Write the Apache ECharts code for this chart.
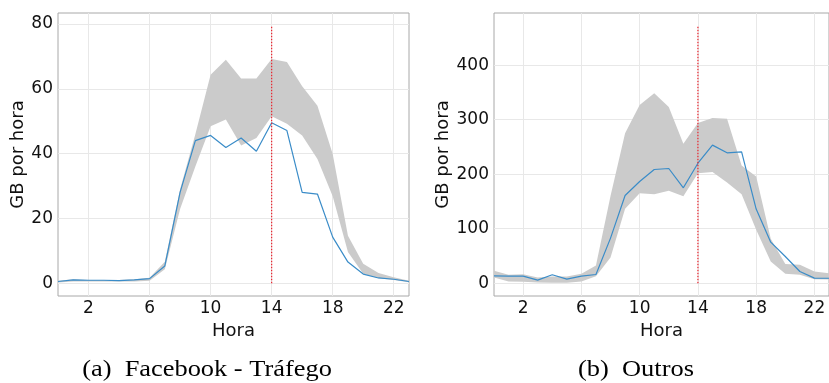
<!DOCTYPE html>
<html>
<head>
<meta charset="utf-8">
<script src="https://cdn.jsdelivr.net/npm/echarts@6/dist/echarts.min.js"></script>
<style>
  html, body { margin: 0; padding: 0; background: #fff; }
  #main { width: 829px; height: 383px; }
</style>
</head>
<body>
<div id="main"></div>
<script>
// horas do dia
const hours = [0,1,2,3,4,5,6,7,8,9,10,11,12,13,14,15,16,17,18,19,20,21,22,23];
const xTicks = [2, 6, 10, 14, 18, 22];

// (a) Facebook - Tráfego
const fbLine = [0.5,1.0,0.9,0.9,0.8,1.0,1.4,5.3,28,44,45.6,41.9,44.8,40.7,49.5,47.1,28,27.5,14.2,6.5,2.8,1.6,1.2,0.5];
const fbLow  = [0.2,0.5,0.5,0.5,0.5,0.5,0.7,4.3,22.9,36,48.4,50.5,42.5,44.8,51.5,49.2,45.6,38.3,26.8,9.6,2.9,1.5,1.0,0.3];
const fbHigh = [0.7,1.2,1.0,1.0,1.0,1.2,1.7,6.6,29,46,64.3,69.0,63.2,63.2,69.2,68.3,60.8,54.8,39.9,14.6,6.0,3.1,1.8,0.7];
const fbTicks = [0, 20, 40, 60, 80];
const fbMarkTop = 79.4;

// (b) Outros
const otLine = [13.4,13,12.8,5.5,15.3,7.3,12.8,15.8,82.6,160.8,186.5,208.5,210.3,174.9,220,253.2,239.1,240.9,135.8,75.2,48.8,21.3,9.2,9];
const otLow  = [10.3,3,2.4,1.2,0.6,0.6,3,12.8,47,136.3,165,163.3,169.4,159.6,201.8,203.7,184.6,163.3,97.8,39.6,17,15.2,7,6.5];
const otHigh = [22.6,15.2,16.5,10.4,12,12,17,32.3,160,275,327,348.6,323,255.6,293.6,303,301.5,215.8,195.6,81.3,34.9,33.6,21.3,18];
const otTicks = [0, 100, 200, 300, 400];
const otMarkTop = 472;

const peakHour = 14;

const chart = echarts.init(document.getElementById('main'), null, { renderer: 'canvas' });

const font = 'DejaVu Sans';
const textColor = '#111';
const pairs = (arr) => hours.map((h, i) => [h, arr[i]]);

function xAxisFor(idx) {
  return {
    type: 'value', gridIndex: idx, min: 0, max: 23,
    name: 'Hora', nameLocation: 'middle', nameGap: 21,
    nameTextStyle: { fontFamily: font, fontSize: 18, color: textColor },
    axisLine: { show: false },
    axisTick: { show: false, customValues: xTicks },
    axisLabel: { customValues: xTicks, fontFamily: font, fontSize: 17, color: textColor, margin: 4 },
    splitLine: { show: true, lineStyle: { color: '#e8e8e8', width: 1 } }
  };
}

function yAxisFor(idx, min, max, ticks, gap) {
  return {
    type: 'value', gridIndex: idx, min: min, max: max,
    name: 'GB por hora', nameLocation: 'middle', nameGap: gap,
    nameTextStyle: { fontFamily: font, fontSize: 18, color: textColor },
    axisLine: { show: false },
    axisTick: { show: false, customValues: ticks },
    axisLabel: { customValues: ticks, fontFamily: font, fontSize: 17, color: textColor, margin: 5 },
    splitLine: { show: true, lineStyle: { color: '#e8e8e8', width: 1 } }
  };
}

// faixa min-max desenhada como um poligono via escalas do eixo
function bandSeries(idx, low, high) {
  return {
    type: 'custom', xAxisIndex: idx, yAxisIndex: idx, silent: true,
    data: hours.map((h, i) => [h, low[i], high[i]]),
    encode: { x: 0, y: [1, 2] },
    renderItem: function (params, api) {
      if (params.dataIndex !== 0) return null;
      const pts = [];
      for (let i = 0; i < hours.length; i++) pts.push(api.coord([hours[i], high[i]]));
      for (let i = hours.length - 1; i >= 0; i--) pts.push(api.coord([hours[i], low[i]]));
      return { type: 'polygon', shape: { points: pts }, style: { fill: '#cbcbcb', stroke: null } };
    }
  };
}

function seriesFor(idx, low, high, line, top) {
  return [
    bandSeries(idx, low, high),
    {
      type: 'line', xAxisIndex: idx, yAxisIndex: idx,
      data: pairs(line), symbol: 'none', silent: true,
      lineStyle: { color: '#3a8cc8', width: 1.2 }
    },
    {
      type: 'line', xAxisIndex: idx, yAxisIndex: idx,
      data: [[peakHour, 0], [peakHour, top]], symbol: 'none', silent: true,
      lineStyle: { color: '#e8202a', width: 1.2, type: [1.5, 1.5] }
    }
  ];
}

const option = {
  animation: false,
  backgroundColor: '#fff',
  grid: [
    { left: 58, top: 13, width: 351, height: 283, show: true, borderColor: '#a8a8a8', borderWidth: 1, backgroundColor: 'transparent' },
    { left: 494, top: 13, width: 339, height: 283, show: true, borderColor: '#a8a8a8', borderWidth: 1, backgroundColor: 'transparent' }
  ],
  xAxis: [xAxisFor(0), xAxisFor(1)],
  yAxis: [
    yAxisFor(0, -3.97, 83.4, fbTicks, 29),
    yAxisFor(1, -23.6, 495.6, otTicks, 42)
  ],
  series: [].concat(
    seriesFor(0, fbLow, fbHigh, fbLine, fbMarkTop),
    seriesFor(1, otLow, otHigh, otLine, otMarkTop)
  ),
  graphic: [
    {
      type: 'text', x: 207, y: 370, scaleX: 1.1, silent: true,
      style: { text: '(a)  Facebook - Tráfego', font: '24px "Liberation Serif"', textAlign: 'center', textVerticalAlign: 'middle', fill: '#000' }
    },
    {
      type: 'text', x: 636, y: 370, scaleX: 1.1, silent: true,
      style: { text: '(b)  Outros', font: '24px "Liberation Serif"', textAlign: 'center', textVerticalAlign: 'middle', fill: '#000' }
    }
  ]
};

chart.setOption(option);
window.addEventListener('resize', () => chart.resize());
</script>
</body>
</html>
